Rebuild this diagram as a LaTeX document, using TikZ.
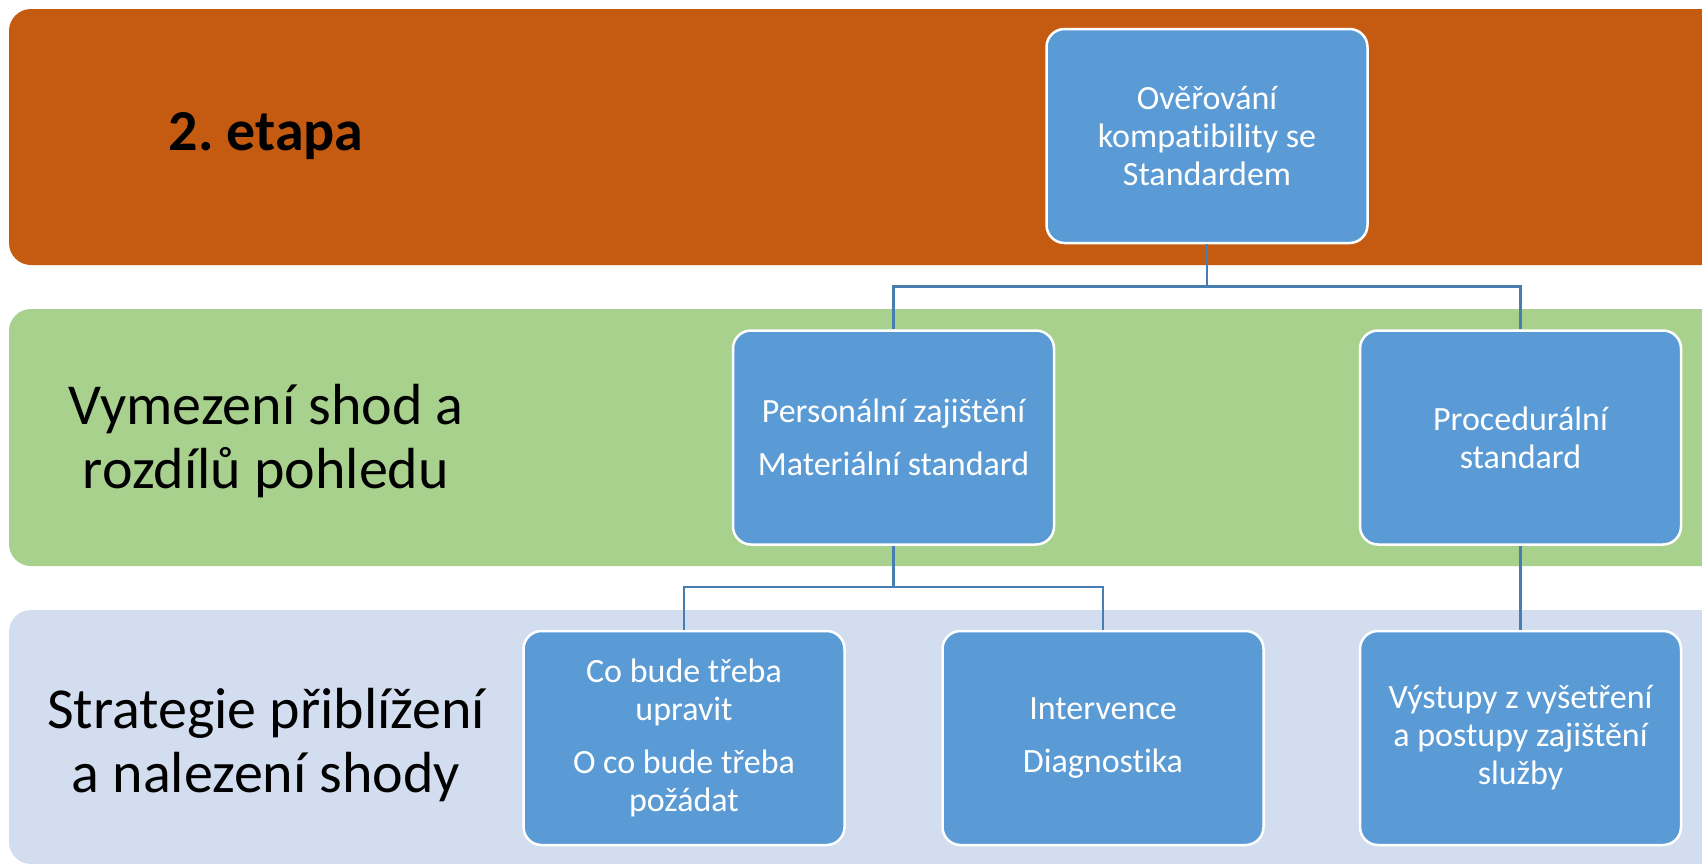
\documentclass[tikz,border=0pt]{standalone}
\usepackage{fontspec}
\setmainfont{Carlito}[Ligatures=NoCommon]
\frenchspacing
\definecolor{bandorange}{HTML}{C55A11}
\definecolor{bandgreen}{HTML}{A9D18E}
\definecolor{bandblue}{HTML}{D2DEEF}
\definecolor{boxblue}{HTML}{5B9BD5}
\definecolor{connblue}{HTML}{477DB0}
\tikzset{
  band/.style={rounded corners=22pt},
  boxnode/.style={draw=white, line width=2.5pt, fill=boxblue, rounded corners=18pt,
    text=white, align=center, inner sep=0pt, minimum width=321pt, minimum height=214pt,
    font=\fontsize{34}{38}\selectfont},
  conn/.style={draw=connblue, line width=2.5pt},
  bandlabel/.style={align=center, text=black, font=\fontsize{58}{64}\selectfont},
}
\begin{document}
\begin{tikzpicture}[x=1pt,y=-1pt]
\useasboundingbox (0,0) rectangle (1702,863);
\clip (0,0) rectangle (1702,863);
\fill[white] (0,0) rectangle (1702,863);
% bands
\fill[bandorange, band] (9,9) rectangle (1740,265);
\fill[bandgreen, band] (9,309) rectangle (1740,566);
\fill[bandblue, band] (9,610) rectangle (1740,864);
% band labels
\node[bandlabel, font=\fontsize{58}{64}\selectfont\bfseries] (lab1) at (266,136) {2. etapa};
\node[bandlabel] (lab2) at (266,441) {Vymezení shod a\\rozdílů pohledu};
\node[bandlabel] (lab3) at (266,745) {Strategie přiblížení\\a nalezení shody};
% boxes
\node[boxnode] (top) at (1207,136) {Ověřování\\kompatibility se\\Standardem};
\node[boxnode] (pers) at (893.5,437.5) {Personální zajištění\\[15pt]Materiální standard};
\node[boxnode] (proc) at (1520.5,437.5) {Procedurální\\standard};
\node[boxnode] (b1) at (684,738) {Co bude třeba\\upravit\\[15pt]O co bude třeba\\požádat};
\node[boxnode] (b2) at (1103,738) {Intervence\\[15pt]Diagnostika};
\node[boxnode] (b3) at (1520.5,738) {Výstupy z vyšetření\\a postupy zajištění\\služby};
% connectors
\coordinate (j1) at (1207,286.5);
\coordinate (j2) at (893.5,587);
\draw[conn] (top.south) -- (j1);
\draw[conn] (j1) -| (pers.north);
\draw[conn] (j1) -| (proc.north);
\draw[conn] (pers.south) -- (j2);
\draw[conn] (j2) -| (b1.north);
\draw[conn] (j2) -| (b2.north);
\draw[conn] (proc.south) -- (b3.north);
\end{tikzpicture}
\end{document}
